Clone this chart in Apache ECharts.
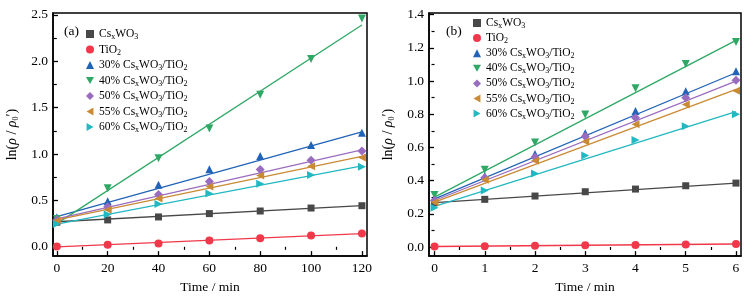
<!DOCTYPE html>
<html>
<head>
<meta charset="utf-8">
<script src="https://cdn.jsdelivr.net/npm/echarts@6/dist/echarts.min.js"></script>
<style>
  html, body { margin: 0; padding: 0; background: #fff; }
  #chart { width: 754px; height: 299px; }
</style>
</head>
<body>
<div id="chart"></div>
<script>
// sample names, in legend order
const seriesNames = ['CsxWO3', 'TiO2', '30% CsxWO3/TiO2', '40% CsxWO3/TiO2',
  '50% CsxWO3/TiO2', '55% CsxWO3/TiO2', '60% CsxWO3/TiO2'];

// panel (a): time in min
const timeA = [0, 20, 40, 60, 80, 100, 120];
const csA  = [0.265, 0.290, 0.322, 0.358, 0.386, 0.418, 0.443];
const tiA  = [0.003, 0.021, 0.035, 0.068, 0.093, 0.121, 0.143];
const p30A = [0.320, 0.490, 0.669, 0.837, 0.980, 1.098, 1.230];
const p40A = [0.300, 0.630, 0.955, 1.274, 1.638, 2.025, 2.460];
const p50A = [0.290, 0.433, 0.565, 0.705, 0.833, 0.933, 1.033];
const p55A = [0.280, 0.400, 0.520, 0.651, 0.769, 0.869, 0.962];
const p60A = [0.245, 0.347, 0.461, 0.576, 0.680, 0.773, 0.862];
// fitted lines (a), value at first and last time
const fitStartA = [0.270, 0.000, 0.325, 0.250, 0.300, 0.290, 0.245];
const fitEndA   = [0.445, 0.143, 1.240, 2.390, 1.045, 0.975, 0.872];

// panel (b): time in min
const timeB = [0, 1, 2, 3, 4, 5, 6];
const csB  = [0.267, 0.287, 0.307, 0.333, 0.349, 0.369, 0.385];
const tiB  = [0.003, 0.005, 0.008, 0.010, 0.012, 0.015, 0.018];
const p30B = [0.293, 0.427, 0.560, 0.686, 0.820, 0.938, 1.059];
const p40B = [0.313, 0.465, 0.630, 0.798, 0.957, 1.103, 1.235];
const p50B = [0.280, 0.417, 0.540, 0.666, 0.778, 0.900, 1.005];
const p55B = [0.270, 0.405, 0.519, 0.636, 0.740, 0.858, 0.941];
const p60B = [0.237, 0.341, 0.443, 0.552, 0.644, 0.728, 0.800];
const fitStartB = [0.267, 0.003, 0.290, 0.300, 0.280, 0.270, 0.245];
const fitEndB   = [0.385, 0.018, 1.050, 1.245, 1.000, 0.950, 0.815];

// tick labels
const xTicksA = [0, 20, 40, 60, 80, 100, 120];
const xMinorA = [10, 30, 50, 70, 90, 110];
const yTicksA = [0, 0.5, 1.0, 1.5, 2.0, 2.5];
const yMinorA = [0.25, 0.75, 1.25, 1.75, 2.25];
const xTicksB = [0, 1, 2, 3, 4, 5, 6];
const xMinorB = [0.5, 1.5, 2.5, 3.5, 4.5, 5.5];
const yTicksB = [0, 0.2, 0.4, 0.6, 0.8, 1.0, 1.2, 1.4];
const yMinorB = [0.1, 0.3, 0.5, 0.7, 0.9, 1.1, 1.3];

const colors = ['#484848', '#f0384a', '#2163b6', '#2fa866', '#9a6cbf', '#c98a33', '#22b8c2'];
const symbols = ['rect', 'circle', 'triangle', 'triangle', 'diamond', 'triangle', 'triangle'];
const rotations = [0, 0, 0, 180, 0, 90, -90];
const symSizes = [7, 8, 8, 8, 9, 8, 8];
// legend icons (legend does not rotate symbols)
const legendIcons = ['rect', 'circle', 'triangle',
    'path://M0,0L10,0L5,8.66Z', 'diamond',
    'path://M8.66,0L8.66,10L0,5Z', 'path://M0,0L0,10L8.66,5Z'];

const FONT = 'Liberation Serif';

function richName(name) {
    return name.replace('CsxWO3', 'Cs{s|x}WO{s|3}').replace('TiO2', 'TiO{s|2}');
}

const subRich = {
    s: { fontFamily: FONT, fontSize: 8, lineHeight: 8, verticalAlign: 'bottom', color: '#000' },
    i: { fontFamily: FONT, fontSize: 14, fontStyle: 'italic', lineHeight: 16, color: '#000' }
};

function axisPair(grid, min, max, ticks, minor, isX, digits) {
    const major = {
        type: 'value', gridIndex: grid, min, max,
        axisLine: { show: true, onZero: false, lineStyle: { color: '#000', width: 1.5 } },
        axisTick: { show: true, inside: true, length: 5, customValues: ticks, lineStyle: { color: '#000', width: 1.3 } },
        axisLabel: {
            customValues: ticks, color: '#000', fontFamily: FONT, fontSize: 13.5, margin: 5,
            formatter: v => v.toFixed(digits)
        },
        splitLine: { show: false }
    };
    if (isX) {
        major.name = 'Time / min';
        major.nameLocation = 'middle';
        major.nameGap = 19;
        major.nameTextStyle = { color: '#000', fontFamily: FONT, fontSize: 13.5 };
    } else {
        major.name = 'ln({i|ρ} / {i|ρ}{s|0}′)';
        major.nameLocation = 'middle';
        major.nameGap = 33;
        major.nameTextStyle = { color: '#000', fontFamily: FONT, fontSize: 14, lineHeight: 16, rich: subRich };
    }
    const minorAxis = {
        type: 'value', gridIndex: grid, min, max,
        axisLine: { show: false },
        axisTick: { show: true, inside: true, length: 3, customValues: minor, lineStyle: { color: '#000', width: 1.2 } },
        axisLabel: { show: false },
        splitLine: { show: false }
    };
    return [major, minorAxis];
}

const panelA = [csA, tiA, p30A, p40A, p50A, p55A, p60A];
const panelB = [csB, tiB, p30B, p40B, p50B, p55B, p60B];

function buildSeries(xAxisIndex, yAxisIndex, times, panel, fitStart, fitEnd) {
    const out = [];
    seriesNames.forEach((name, i) => {
        out.push({
            type: 'line', name: name + ' fit', xAxisIndex, yAxisIndex,
            data: [[times[0], fitStart[i]], [times[times.length - 1], fitEnd[i]]],
            showSymbol: false, silent: true, z: 2,
            lineStyle: { color: colors[i], width: 1.3 }
        });
        out.push({
            type: 'scatter', name, xAxisIndex, yAxisIndex,
            data: times.map((t, k) => [t, panel[i][k]]),
            symbol: symbols[i], symbolRotate: rotations[i], symbolSize: symSizes[i], z: 3,
            itemStyle: { color: colors[i], opacity: 1 }
        });
    });
    return out;
}

function legendAt(left, top, gap) {
    return {
        orient: 'vertical', left, top, padding: 0,
        data: seriesNames.map((name, i) => ({ name, icon: legendIcons[i] })),
        itemWidth: 8, itemHeight: 8, itemGap: gap,
        formatter: richName,
        textStyle: { color: '#000', fontFamily: FONT, fontSize: 11.5, lineHeight: 14, rich: subRich }
    };
}

const [xA, xAm] = axisPair(0, -1.5, 122, xTicksA, xMinorA, true, 0);
const [yA, yAm] = axisPair(0, -0.1, 2.52, yTicksA, yMinorA, false, 1);
const [xB, xBm] = axisPair(1, -0.11, 6.1, xTicksB, xMinorB, true, 0);
const [yB, yBm] = axisPair(1, -0.055, 1.41, yTicksB, yMinorB, false, 1);

const option = {
    animation: false,
    backgroundColor: '#fff',
    grid: [
        { left: 53, right: 387, top: 13, bottom: 41, show: true, borderColor: '#000', borderWidth: 1.5 },
        { left: 429, right: 13, top: 13, bottom: 41, show: true, borderColor: '#000', borderWidth: 1.5 }
    ],
    xAxis: [xA, xAm, xB, xBm],
    yAxis: [yA, yAm, yB, yBm],
    legend: [legendAt(86, 27, 1.5), legendAt(473, 16, 1.1)],
    graphic: [
        { type: 'text', left: 64, top: 24, style: { text: '(a)', font: '13.5px "Liberation Serif"', fill: '#000' } },
        { type: 'text', left: 446, top: 24, style: { text: '(b)', font: '13.5px "Liberation Serif"', fill: '#000' } }
    ],
    series: [
        ...buildSeries(0, 0, timeA, panelA, fitStartA, fitEndA),
        ...buildSeries(2, 2, timeB, panelB, fitStartB, fitEndB)
    ]
};

const chart = echarts.init(document.getElementById('chart'));
chart.setOption(option);
</script>
</body>
</html>
